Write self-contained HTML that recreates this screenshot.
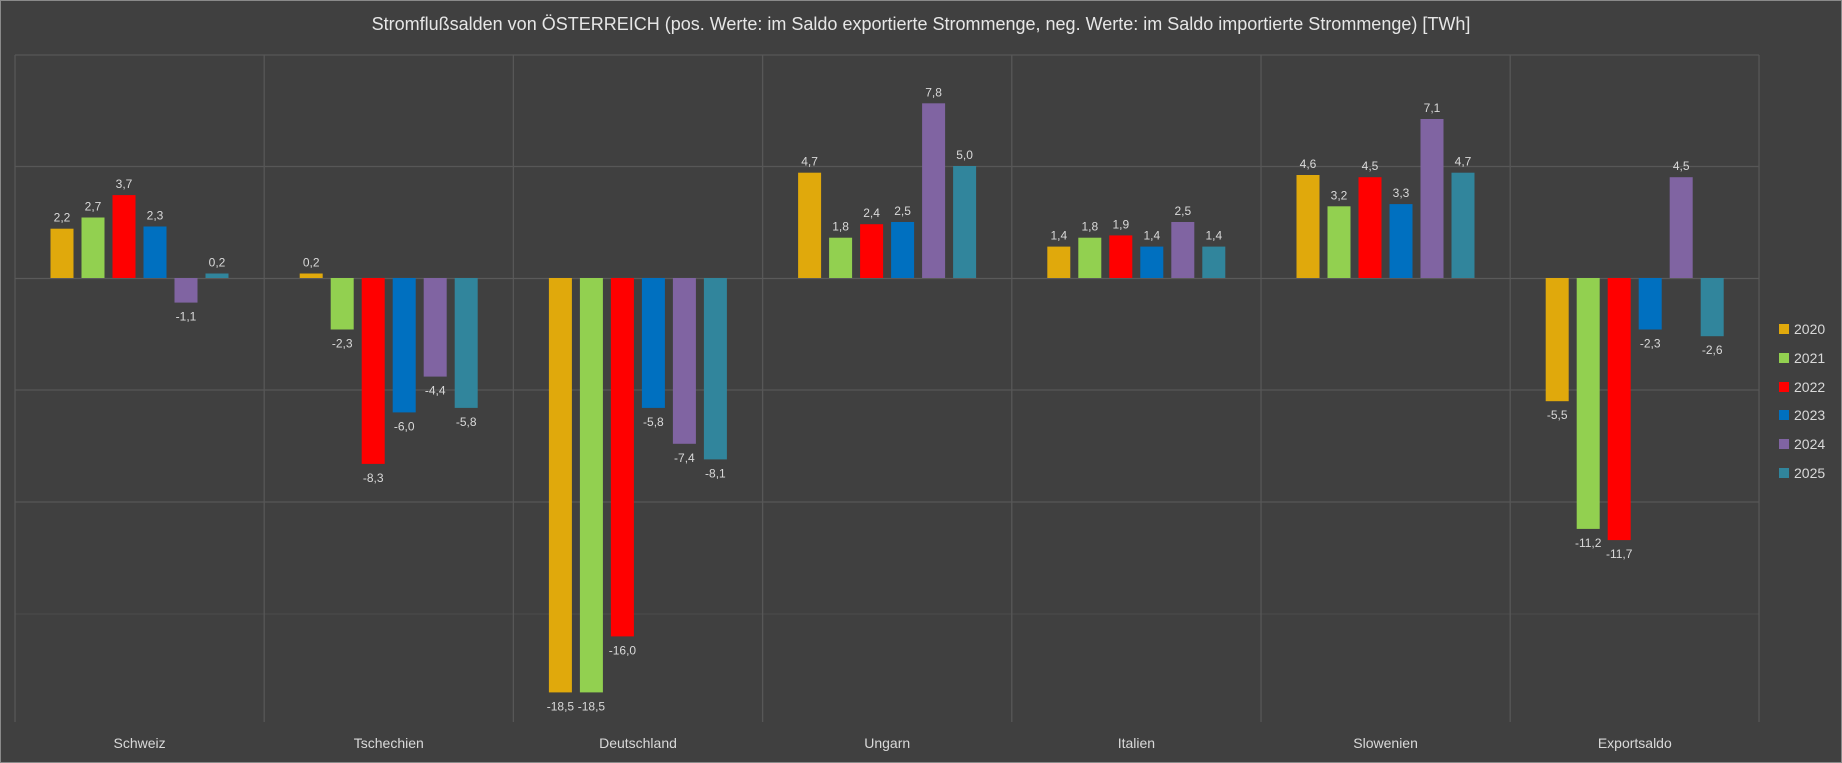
<!DOCTYPE html>
<html><head><meta charset="utf-8"><style>
html,body{margin:0;padding:0;background:#404040;}
svg{display:block;font-family:"Liberation Sans",sans-serif;}
</style></head><body>
<svg width="1842" height="763" viewBox="0 0 1842 763">
<rect x="0" y="0" width="1842" height="763" fill="#404040"/>
<rect x="0.5" y="0.5" width="1841" height="762" fill="none" stroke="#8a8a8a"/>
<text x="921" y="30" fill="#e6e6e6" font-size="18" text-anchor="middle">Stromflußsalden von ÖSTERREICH (pos. Werte: im Saldo exportierte Strommenge, neg. Werte: im Saldo importierte Strommenge) [TWh]</text>
<g stroke="#575757" stroke-width="1.3" fill="none">
<line x1="15" y1="55" x2="1759" y2="55"/>
<line x1="15" y1="166.5" x2="1759" y2="166.5"/>
<line x1="15" y1="390" x2="1759" y2="390"/>
<line x1="15" y1="502" x2="1759" y2="502"/>
<line x1="15" y1="614" x2="1759" y2="614" stroke="#4a4a4a"/>
<line x1="15" y1="55" x2="15" y2="722"/>
<line x1="264.2" y1="55" x2="264.2" y2="722"/>
<line x1="513.4" y1="55" x2="513.4" y2="722"/>
<line x1="762.6" y1="55" x2="762.6" y2="722"/>
<line x1="1011.8" y1="55" x2="1011.8" y2="722"/>
<line x1="1261" y1="55" x2="1261" y2="722"/>
<line x1="1510.2" y1="55" x2="1510.2" y2="722"/>
<line x1="1759" y1="55" x2="1759" y2="722"/>
<line x1="15" y1="278.5" x2="1759" y2="278.5" stroke="#5a5a5a"/>
</g>
<g>
<!-- Schweiz -->
<rect x="50.5" y="228.7" width="23" height="49.3" fill="#E0A90C"/>
<rect x="81.5" y="217.5" width="23" height="60.5" fill="#92D050"/>
<rect x="112.5" y="195.1" width="23" height="82.9" fill="#FF0000"/>
<rect x="143.5" y="226.5" width="23" height="51.5" fill="#0070C0"/>
<rect x="174.5" y="278" width="23" height="24.6" fill="#8064A2"/>
<rect x="205.5" y="273.5" width="23" height="4.5" fill="#31859C"/>
<!-- Tschechien -->
<rect x="299.7" y="273.5" width="23" height="4.5" fill="#E0A90C"/>
<rect x="330.7" y="278" width="23" height="51.5" fill="#92D050"/>
<rect x="361.7" y="278" width="23" height="185.9" fill="#FF0000"/>
<rect x="392.7" y="278" width="23" height="134.4" fill="#0070C0"/>
<rect x="423.7" y="278" width="23" height="98.6" fill="#8064A2"/>
<rect x="454.7" y="278" width="23" height="129.9" fill="#31859C"/>
<!-- Deutschland -->
<rect x="548.9" y="278" width="23" height="414.4" fill="#E0A90C"/>
<rect x="579.9" y="278" width="23" height="414.4" fill="#92D050"/>
<rect x="610.9" y="278" width="23" height="358.4" fill="#FF0000"/>
<rect x="641.9" y="278" width="23" height="129.9" fill="#0070C0"/>
<rect x="672.9" y="278" width="23" height="165.8" fill="#8064A2"/>
<rect x="703.9" y="278" width="23" height="181.4" fill="#31859C"/>
<!-- Ungarn -->
<rect x="798.1" y="172.7" width="23" height="105.3" fill="#E0A90C"/>
<rect x="829.1" y="237.7" width="23" height="40.3" fill="#92D050"/>
<rect x="860.1" y="224.2" width="23" height="53.8" fill="#FF0000"/>
<rect x="891.1" y="222" width="23" height="56" fill="#0070C0"/>
<rect x="922.1" y="103.3" width="23" height="174.7" fill="#8064A2"/>
<rect x="953.1" y="166" width="23" height="112" fill="#31859C"/>
<!-- Italien -->
<rect x="1047.3" y="246.6" width="23" height="31.4" fill="#E0A90C"/>
<rect x="1078.3" y="237.7" width="23" height="40.3" fill="#92D050"/>
<rect x="1109.3" y="235.4" width="23" height="42.6" fill="#FF0000"/>
<rect x="1140.3" y="246.6" width="23" height="31.4" fill="#0070C0"/>
<rect x="1171.3" y="222" width="23" height="56" fill="#8064A2"/>
<rect x="1202.3" y="246.6" width="23" height="31.4" fill="#31859C"/>
<!-- Slowenien -->
<rect x="1296.5" y="175" width="23" height="103" fill="#E0A90C"/>
<rect x="1327.5" y="206.3" width="23" height="71.7" fill="#92D050"/>
<rect x="1358.5" y="177.2" width="23" height="100.8" fill="#FF0000"/>
<rect x="1389.5" y="204.1" width="23" height="73.9" fill="#0070C0"/>
<rect x="1420.5" y="119" width="23" height="159" fill="#8064A2"/>
<rect x="1451.5" y="172.7" width="23" height="105.3" fill="#31859C"/>
<!-- Exportsaldo -->
<rect x="1545.7" y="278" width="23" height="123.2" fill="#E0A90C"/>
<rect x="1576.7" y="278" width="23" height="250.9" fill="#92D050"/>
<rect x="1607.7" y="278" width="23" height="262.1" fill="#FF0000"/>
<rect x="1638.7" y="278" width="23" height="51.5" fill="#0070C0"/>
<rect x="1669.7" y="177.2" width="23" height="100.8" fill="#8064A2"/>
<rect x="1700.7" y="278" width="23" height="58.2" fill="#31859C"/>
</g>
<g fill="#d9d9d9" font-size="12" text-anchor="middle">
<text x="62" y="221.7">2,2</text><text x="93" y="210.5">2,7</text><text x="124" y="188.1">3,7</text><text x="155" y="219.5">2,3</text><text x="186" y="320.6">-1,1</text><text x="217" y="266.5">0,2</text>
<text x="311.2" y="266.5">0,2</text><text x="342.2" y="347.5">-2,3</text><text x="373.2" y="481.9">-8,3</text><text x="404.2" y="430.4">-6,0</text><text x="435.2" y="394.6">-4,4</text><text x="466.2" y="425.9">-5,8</text>
<text x="560.4" y="710.4">-18,5</text><text x="591.4" y="710.4">-18,5</text><text x="622.4" y="654.4">-16,0</text><text x="653.4" y="425.9">-5,8</text><text x="684.4" y="461.8">-7,4</text><text x="715.4" y="477.4">-8,1</text>
<text x="809.6" y="165.7">4,7</text><text x="840.6" y="230.7">1,8</text><text x="871.6" y="217.2">2,4</text><text x="902.6" y="215">2,5</text><text x="933.6" y="96.3">7,8</text><text x="964.6" y="159">5,0</text>
<text x="1058.8" y="239.6">1,4</text><text x="1089.8" y="230.7">1,8</text><text x="1120.8" y="228.4">1,9</text><text x="1151.8" y="239.6">1,4</text><text x="1182.8" y="215">2,5</text><text x="1213.8" y="239.6">1,4</text>
<text x="1308" y="168">4,6</text><text x="1339" y="199.3">3,2</text><text x="1370" y="170.2">4,5</text><text x="1401" y="197.1">3,3</text><text x="1432" y="112">7,1</text><text x="1463" y="165.7">4,7</text>
<text x="1557.2" y="419.2">-5,5</text><text x="1588.2" y="546.9">-11,2</text><text x="1619.2" y="558.1">-11,7</text><text x="1650.2" y="347.5">-2,3</text><text x="1681.2" y="170.2">4,5</text><text x="1712.2" y="354.2">-2,6</text>
</g>
<g fill="#d9d9d9" font-size="14" text-anchor="middle">
<text x="139.6" y="748">Schweiz</text>
<text x="388.8" y="748">Tschechien</text>
<text x="638" y="748">Deutschland</text>
<text x="887.2" y="748">Ungarn</text>
<text x="1136.4" y="748">Italien</text>
<text x="1385.6" y="748">Slowenien</text>
<text x="1634.8" y="748">Exportsaldo</text>
</g>
<g font-size="14" fill="#d9d9d9">
<rect x="1779" y="324" width="10" height="10" fill="#E0A90C"/><text x="1794" y="334">2020</text>
<rect x="1779" y="353" width="10" height="10" fill="#92D050"/><text x="1794" y="363">2021</text>
<rect x="1779" y="382" width="10" height="10" fill="#FF0000"/><text x="1794" y="392">2022</text>
<rect x="1779" y="410" width="10" height="10" fill="#0070C0"/><text x="1794" y="420">2023</text>
<rect x="1779" y="439" width="10" height="10" fill="#8064A2"/><text x="1794" y="449">2024</text>
<rect x="1779" y="468" width="10" height="10" fill="#31859C"/><text x="1794" y="478">2025</text>
</g>
</svg>
</body></html>
